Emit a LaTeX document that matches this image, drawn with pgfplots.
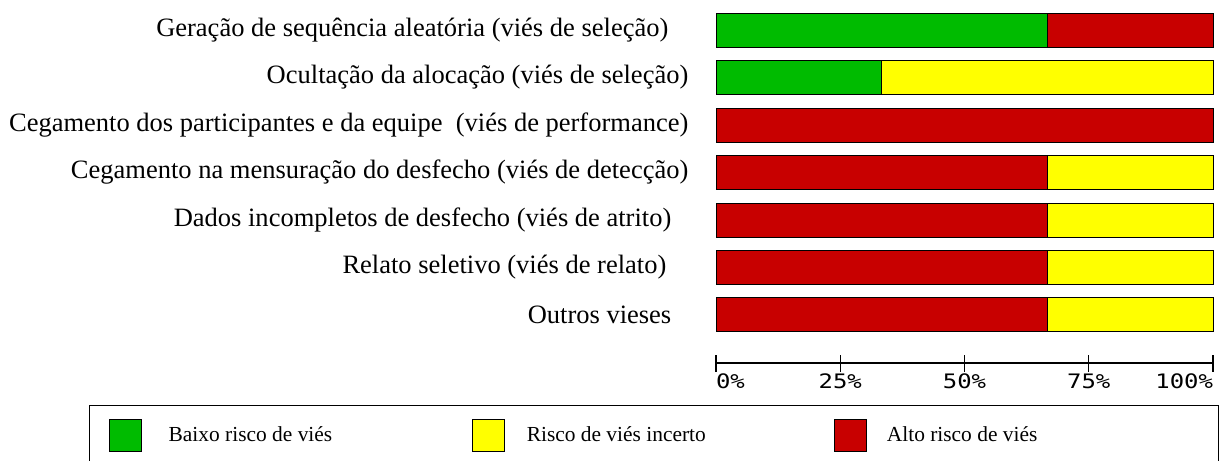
\documentclass[border=0pt]{standalone}
\usepackage{pgfplots}
\pgfplotsset{compat=1.18}
\usepackage{fontspec}
\setmainfont{Liberation Serif}
\newfontfamily\tickfont[FakeStretch=1.2]{DejaVu Sans Mono}
\definecolor{rbgreen}{RGB}{0,187,0}
\definecolor{rbred}{RGB}{200,0,0}
\definecolor{rbyellow}{RGB}{255,255,0}
\begin{document}
\begin{tikzpicture}
\useasboundingbox (0,0) rectangle (1221bp,-461bp);
\begin{axis}[
  at={(716bp,0bp)}, anchor=north west,
  scale only axis, width=497bp, height=363bp,
  xbar stacked, bar width=34bp,
  xmin=0, xmax=100, ymin=-0.011, ymax=7.632,
  enlargelimits=false, clip=false,
  axis x line=bottom, axis y line*=left,
  x axis line style={-, line width=1.2bp, black},
  y axis line style={draw=none},
  every outer x axis line/.append style={-},
  xtick={0,25,50,75,100},
  xticklabels={\makebox[0pt][l]{0\%},25\%,50\%,75\%,\makebox[0pt][r]{100\%}},
  tick align=center, major tick length=17bp,
  xtick style={line width=1.2bp, black},
  ytick style={draw=none},
  xticklabel style={font=\tickfont\fontsize{20}{20}\selectfont, inner sep=0pt, yshift=-2bp},
  ytick={1,2,3,4,5,6,7},
  yticklabels={
    {Outros vieses\hspace*{17bp}},
    {Relato seletivo (viés de relato)\hspace*{22bp}},
    {Dados incompletos de desfecho (viés de atrito)\hspace*{17bp}},
    {Cegamento na mensuração do desfecho (viés de detecção)},
    {Cegamento dos participantes e da equipe\ \ (viés de performance)},
    {Ocultação da alocação (viés de seleção)},
    {Geração de sequência aleatória (viés de seleção)\hspace*{20bp}}},
  yticklabel style={anchor=east, inner sep=0pt, xshift=-19bp, font=\fontsize{26.6}{30}\selectfont},
  legend columns=3,
  legend style={at={(axis description cs:-1.2616,-0.1157)}, anchor=north west,
    draw=black, line width=1.2bp, fill=white,
    inner xsep=19bp, inner ysep=13bp,
    nodes={inner sep=0pt, font=\fontsize{21.5}{23}\selectfont},
    cells={anchor=west}},
]
\addplot[forget plot, fill=rbgreen, draw=black, line width=1bp]
  coordinates {(66.67,7) (33.33,6) (0,5) (0,4) (0,3) (0,2) (0,1)};
\addplot[forget plot, fill=rbred, draw=black, line width=1bp]
  coordinates {(33.33,7) (0,6) (100,5) (66.67,4) (66.67,3) (66.67,2) (66.67,1)};
\addplot[forget plot, fill=rbyellow, draw=black, line width=1bp]
  coordinates {(0,7) (66.67,6) (0,5) (33.33,4) (33.33,3) (33.33,2) (33.33,1)};
\addlegendimage{legend image code/.code={\draw[fill=rbgreen,draw=black,line width=1bp] (0bp,-16bp) rectangle (32bp,16bp); \path (59bp,0bp);}}
\addlegendentry{\makebox[303bp][l]{Baixo risco de viés}}
\addlegendimage{legend image code/.code={\draw[fill=rbyellow,draw=black,line width=1bp] (0bp,-16bp) rectangle (32bp,16bp); \path (54bp,0bp);}}
\addlegendentry{\makebox[307bp][l]{Risco de viés incerto}}
\addlegendimage{legend image code/.code={\draw[fill=rbred,draw=black,line width=1bp] (0bp,-16bp) rectangle (32bp,16bp); \path (52bp,0bp);}}
\addlegendentry{\makebox[313bp][l]{Alto risco de viés}}
\end{axis}
\end{tikzpicture}
\end{document}
